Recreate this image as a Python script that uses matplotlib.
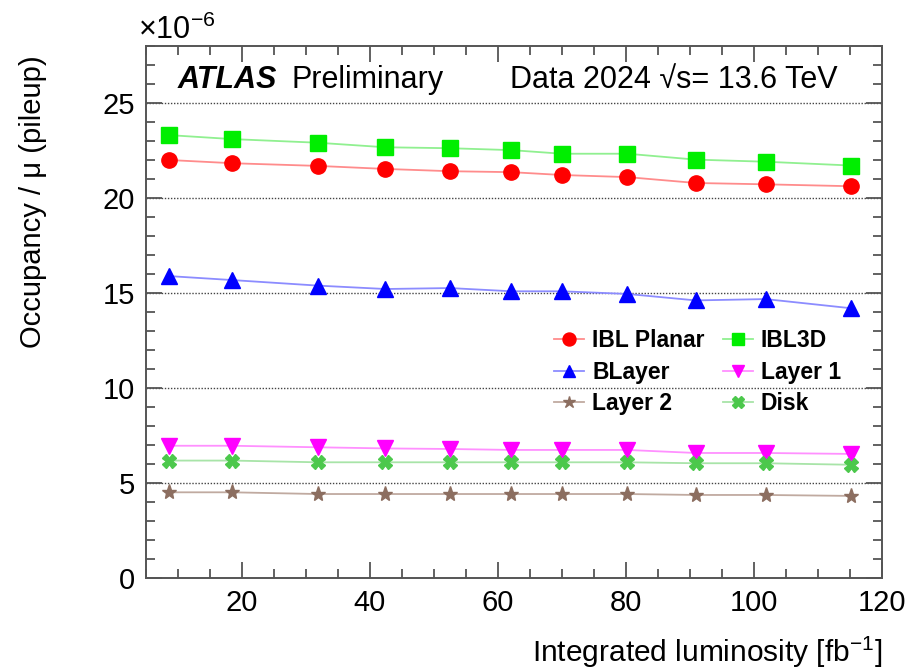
import matplotlib
matplotlib.use("Agg")
import matplotlib.pyplot as plt
from matplotlib.ticker import MultipleLocator

plt.rcParams['font.family'] = ['Liberation Sans', 'DejaVu Sans']
plt.rcParams['mathtext.fontset'] = 'custom'
plt.rcParams['mathtext.rm'] = 'Liberation Sans'
plt.rcParams['mathtext.it'] = 'Liberation Sans:italic'
plt.rcParams['mathtext.bf'] = 'Liberation Sans:bold'

# Data (occupancy / mu, in units of 1e-6)
lumi = [8.6, 18.5, 31.8, 42.4, 52.5, 62.1, 70.0, 80.2, 90.9, 101.8, 115.1]
ibl_planar = [22.00, 21.83, 21.69, 21.53, 21.41, 21.36, 21.21, 21.10, 20.79, 20.72, 20.62]
ibl_3d = [23.31, 23.10, 22.91, 22.67, 22.62, 22.52, 22.33, 22.33, 22.02, 21.91, 21.71]
blayer = [15.89, 15.68, 15.39, 15.21, 15.26, 15.09, 15.09, 14.95, 14.61, 14.68, 14.20]
layer1 = [6.96, 6.96, 6.88, 6.82, 6.79, 6.74, 6.74, 6.74, 6.58, 6.58, 6.53]
layer2 = [4.51, 4.51, 4.42, 4.42, 4.42, 4.42, 4.42, 4.42, 4.37, 4.37, 4.32]
disk = [6.18, 6.18, 6.09, 6.09, 6.09, 6.09, 6.09, 6.09, 6.04, 6.04, 5.96]

series = [
    ("IBL Planar", ibl_planar, "#ff0000", "#ff8c8c", "o", 11),
    ("IBL3D", ibl_3d, "#00ee00", "#90f090", "s", 11),
    ("BLayer", blayer, "#0000ff", "#8c8cff", "^", 11),
    ("Layer 1", layer1, "#ff00ff", "#ff90ff", "v", 11),
    ("Layer 2", layer2, "#8c6e60", "#c0aaa0", "*", 11),
    ("Disk", disk, "#4cc84c", "#a8e4a8", "X", 10),
]

fig = plt.figure(figsize=(9.08, 6.70), dpi=100)
ax = fig.add_axes([146/908, 1-578/670, (882-146)/908, (578-46)/670])

handles = {}
for name, vals, mc, lc, mk, ms in series:
    h, = ax.plot(lumi, vals, color=lc, lw=1.3, marker=mk, ms=ms,
                 markerfacecolor=mc, markeredgecolor=mc, label=name)
    handles[name] = h

ax.set_xlim(5, 120)
ax.set_ylim(0, 28)
ax.xaxis.set_major_locator(MultipleLocator(20))
ax.xaxis.set_minor_locator(MultipleLocator(5))
ax.yaxis.set_major_locator(MultipleLocator(5))
ax.yaxis.set_minor_locator(MultipleLocator(1))

for y in [5, 10, 15, 20, 25]:
    ax.axhline(y, color='#444444', lw=1.0, ls=(0, (1, 1.2)), zorder=0)

ax.tick_params(which='both', direction='in', top=True, right=True,
               color='#555555', labelsize=21, width=1.3)
ax.tick_params(which='major', length=11.5, pad=8)
ax.tick_params(which='minor', length=6.5)
for s in ax.spines.values():
    s.set_color('#555555')
    s.set_linewidth(1.4)

ax.set_ylabel("Occupancy / μ (pileup)", fontsize=21, loc='top')
ax.yaxis.set_label_coords(-0.134, 0.983)
ax.set_xlabel(r"Integrated luminosity [fb$^{\mathregular{-1}}$]", fontsize=21.5, loc='right')
ax.xaxis.set_label_coords(1.0, -0.139)
ax.xaxis.label.set_va('center')

fig.text(138/908, 1-30/670, r"$\times$10$^{\mathregular{-6}}$", fontsize=22, ha='left', va='center')

ax.text(178/908, 1-80/670, "ATLAS", transform=fig.transFigure, fontsize=22,
        fontweight='bold', fontstyle='italic', ha='left', va='center')
ax.text(292/908, 1-80/670, "Preliminary", transform=fig.transFigure, fontsize=22,
        ha='left', va='center')
ax.text(838/908, 1-80/670, "Data 2024 √s= 13.6 TeV", transform=fig.transFigure,
        fontsize=22, ha='right', va='center')

order = ["IBL Planar", "BLayer", "Layer 2", "IBL3D", "Layer 1", "Disk"]
leg = ax.legend([handles[n] for n in order], order, ncol=2, loc='upper left',
                bbox_to_anchor=(0.555, 0.468), borderpad=0, borderaxespad=0,
                frameon=False, prop={'size': 16.5, 'weight': 'bold'},
                handlelength=1.3, handletextpad=0.35, columnspacing=0.8,
                labelspacing=0.38, markerscale=0.85)

fig.savefig("out.png", dpi=100)
